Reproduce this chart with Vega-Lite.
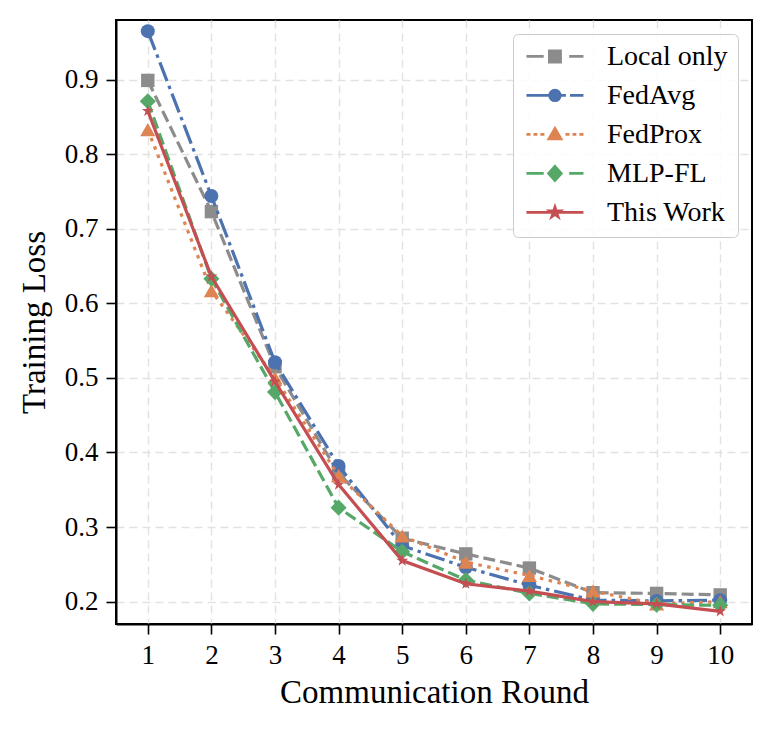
{
  "$schema": "https://vega.github.io/schema/vega-lite/v6.json",
  "width": 636,
  "height": 604,
  "autosize": {"type": "none"},
  "padding": {"left": 116, "top": 20, "right": 21, "bottom": 107},
  "background": "white",
  "config": {
    "font": "Liberation Serif",
    "view": {"stroke": "black", "strokeWidth": 2},
    "axis": {
      "labelFont": "Liberation Serif",
      "titleFont": "Liberation Serif",
      "labelColor": "black",
      "titleColor": "black",
      "titleFontWeight": "normal",
      "labelFontSize": 27,
      "titleFontSize": 33,
      "domainColor": "black",
      "domainWidth": 2,
      "tickColor": "black",
      "tickWidth": 1.6,
      "tickSize": 10,
      "grid": true,
      "gridColor": "#e2e2e2",
      "gridWidth": 1.4,
      "gridDash": [8, 5]
    },
    "legend": {
      "orient": "top-right",
      "offset": 14,
      "labelFont": "Liberation Serif",
      "labelFontSize": 28,
      "labelColor": "black",
      "labelLimit": 300,
      "symbolSize": 900,
      "symbolStrokeWidth": 2.8,
      "labelOffset": 51,
      "rowPadding": 10,
      "padding": 10,
      "strokeColor": "#cccccc",
      "fillColor": "rgba(255,255,255,0.85)",
      "cornerRadius": 5
    }
  },
  "datasets": {
    "loss": [
      {"round": 1, "series": "Local only", "loss": 0.899},
      {"round": 2, "series": "Local only", "loss": 0.723},
      {"round": 3, "series": "Local only", "loss": 0.515},
      {"round": 4, "series": "Local only", "loss": 0.372},
      {"round": 5, "series": "Local only", "loss": 0.285},
      {"round": 6, "series": "Local only", "loss": 0.264},
      {"round": 7, "series": "Local only", "loss": 0.245},
      {"round": 8, "series": "Local only", "loss": 0.212},
      {"round": 9, "series": "Local only", "loss": 0.211},
      {"round": 10, "series": "Local only", "loss": 0.209},
      {"round": 1, "series": "FedAvg", "loss": 0.965},
      {"round": 2, "series": "FedAvg", "loss": 0.744},
      {"round": 3, "series": "FedAvg", "loss": 0.521},
      {"round": 4, "series": "FedAvg", "loss": 0.382},
      {"round": 5, "series": "FedAvg", "loss": 0.275},
      {"round": 6, "series": "FedAvg", "loss": 0.246},
      {"round": 7, "series": "FedAvg", "loss": 0.222},
      {"round": 8, "series": "FedAvg", "loss": 0.202},
      {"round": 9, "series": "FedAvg", "loss": 0.201},
      {"round": 10, "series": "FedAvg", "loss": 0.202},
      {"round": 1, "series": "FedProx", "loss": 0.833},
      {"round": 2, "series": "FedProx", "loss": 0.617},
      {"round": 3, "series": "FedProx", "loss": 0.5},
      {"round": 4, "series": "FedProx", "loss": 0.369},
      {"round": 5, "series": "FedProx", "loss": 0.288},
      {"round": 6, "series": "FedProx", "loss": 0.253},
      {"round": 7, "series": "FedProx", "loss": 0.235},
      {"round": 8, "series": "FedProx", "loss": 0.214},
      {"round": 9, "series": "FedProx", "loss": 0.197},
      {"round": 10, "series": "FedProx", "loss": 0.2},
      {"round": 1, "series": "MLP-FL", "loss": 0.871},
      {"round": 2, "series": "MLP-FL", "loss": 0.633},
      {"round": 3, "series": "MLP-FL", "loss": 0.481},
      {"round": 4, "series": "MLP-FL", "loss": 0.326},
      {"round": 5, "series": "MLP-FL", "loss": 0.267},
      {"round": 6, "series": "MLP-FL", "loss": 0.229},
      {"round": 7, "series": "MLP-FL", "loss": 0.211},
      {"round": 8, "series": "MLP-FL", "loss": 0.197},
      {"round": 9, "series": "MLP-FL", "loss": 0.196},
      {"round": 10, "series": "MLP-FL", "loss": 0.195},
      {"round": 1, "series": "This Work", "loss": 0.858},
      {"round": 2, "series": "This Work", "loss": 0.636},
      {"round": 3, "series": "This Work", "loss": 0.495},
      {"round": 4, "series": "This Work", "loss": 0.357},
      {"round": 5, "series": "This Work", "loss": 0.255},
      {"round": 6, "series": "This Work", "loss": 0.224},
      {"round": 7, "series": "This Work", "loss": 0.214},
      {"round": 8, "series": "This Work", "loss": 0.2},
      {"round": 9, "series": "This Work", "loss": 0.197},
      {"round": 10, "series": "This Work", "loss": 0.187}
    ]
  },
  "data": {"name": "loss"},
  "encoding": {
    "x": {
      "field": "round",
      "type": "quantitative",
      "scale": {"domain": [0.5, 10.5], "nice": false, "zero": false},
      "axis": {"values": [1, 2, 3, 4, 5, 6, 7, 8, 9, 10], "format": "d", "title": "Communication Round", "labelPadding": 8, "titlePadding": 8}
    },
    "y": {
      "field": "loss",
      "type": "quantitative",
      "scale": {"domain": [0.17, 0.98], "nice": false, "zero": false},
      "axis": {"values": [0.2, 0.3, 0.4, 0.5, 0.6, 0.7, 0.8, 0.9], "format": ".1f", "title": "Training Loss", "labelPadding": 8, "titlePadding": 13}
    },
    "color": {
      "field": "series", "type": "nominal", "title": null,
      "scale": {"domain": ["Local only", "FedAvg", "FedProx", "MLP-FL", "This Work"], "range": ["#8C8C8C", "#4C72B0", "#DD8452", "#55A868", "#C44E52"]},
      "legend": {"labelFont": "Liberation Serif", "labelFontSize": 28, "encode": {"labels": {"update": {"dy": {"value": -4}}}}}
    }
  },
  "layer": [
    {
      "transform": [{"filter": "datum.series == 'Local only'"}],
      "layer": [
        {"mark": {"type": "line", "strokeWidth": 3.2, "strokeDash": [12, 5]}},
        {"mark": {"type": "point", "filled": true, "opacity": 1, "shape": "square", "size": 180}}
      ]
    },
    {
      "transform": [{"filter": "datum.series == 'FedAvg'"}],
      "layer": [
        {"mark": {"type": "line", "strokeWidth": 3.2, "strokeDash": [20, 5, 3.5, 5]}},
        {"mark": {"type": "point", "filled": true, "opacity": 1, "shape": "circle", "size": 195}}
      ]
    },
    {
      "transform": [{"filter": "datum.series == 'FedProx'"}],
      "layer": [
        {"mark": {"type": "line", "strokeWidth": 3.2, "strokeDash": [3.5, 5.5]}},
        {"mark": {"type": "point", "filled": true, "opacity": 1, "shape": "triangle-up", "size": 230}}
      ]
    },
    {
      "transform": [{"filter": "datum.series == 'MLP-FL'"}],
      "layer": [
        {"mark": {"type": "line", "strokeWidth": 3.2, "strokeDash": [12, 5]}},
        {"mark": {"type": "point", "filled": true, "opacity": 1, "shape": "diamond", "size": 260}}
      ]
    },
    {
      "transform": [{"filter": "datum.series == 'This Work'"}],
      "layer": [
        {"mark": {"type": "line", "strokeWidth": 3.2}},
        {"mark": {"type": "point", "filled": true, "opacity": 1, "shape": "M0,-1L0.224,-0.308L0.951,-0.309L0.362,0.118L0.588,0.809L0,0.381L-0.588,0.809L-0.362,0.118L-0.951,-0.309L-0.224,-0.308Z", "size": 160}}
      ]
    },
    {
      "transform": [{"filter": "datum.round > 100"}],
      "mark": {"type": "point", "filled": true, "opacity": 1},
      "encoding": {
        "shape": {
          "field": "series", "type": "nominal", "title": null,
          "legend": {"labelFont": "Liberation Serif", "labelFontSize": 28, "encode": {"labels": {"update": {"dy": {"value": -4}}}}},
          "scale": {"domain": ["Local only", "FedAvg", "FedProx", "MLP-FL", "This Work"], "range": [
            "M-0.87,-0.27L0.28,-0.27M1.98,-0.27L2.93,-0.27M0.66,-0.64L1.4,-0.64L1.4,0.1L0.66,0.1Z",
            "M-0.87,-0.27L0.68,-0.27M1.43,-0.27L1.76,-0.27M2.03,-0.27L2.93,-0.27M1.38,-0.27A0.35,0.35 0 1 1 0.68,-0.27A0.35,0.35 0 1 1 1.38,-0.27Z",
            "M-0.87,-0.27L-0.6,-0.27M-0.4,-0.27L-0.14,-0.27M0.06,-0.27L0.33,-0.27M1.73,-0.27L2.0,-0.27M2.2,-0.27L2.46,-0.27M2.66,-0.27L2.93,-0.27M1.03,-0.67L1.43,0.03L0.63,0.03Z",
            "M-0.87,-0.27L0.28,-0.27M1.98,-0.27L2.93,-0.27M1.03,-0.74L1.45,-0.27L1.03,0.2L0.61,-0.27Z",
            "M-0.87,-0.27L2.93,-0.27M1.03,-0.62L1.109,-0.378L1.363,-0.378L1.157,-0.229L1.236,0.013L1.03,-0.136L0.824,0.013L0.903,-0.229L0.697,-0.378L0.951,-0.378Z"
          ]}
        }
      }
    }
  ]
}
